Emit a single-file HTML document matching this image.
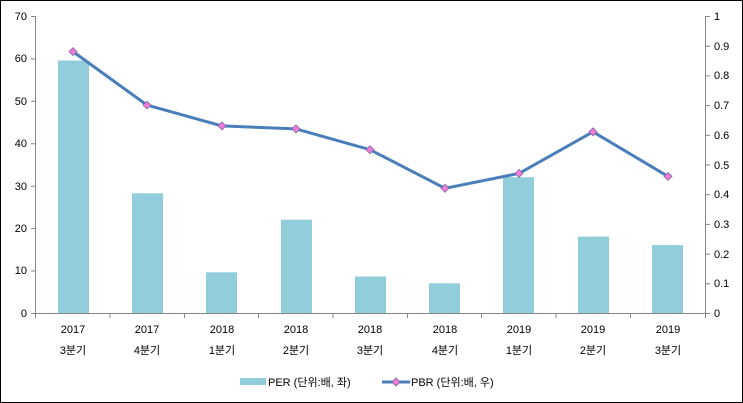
<!DOCTYPE html><html><head><style>body{margin:0}svg{display:block}text{font-family:"Liberation Sans","Noto Sans CJK KR",sans-serif;font-size:11px;fill:#000}</style></head><body>
<svg width="743" height="403" xmlns="http://www.w3.org/2000/svg">
<rect x="0.5" y="0.5" width="742" height="402" fill="#fff" stroke="#000"/>
<g fill="#92CDDC">
<rect x="58" y="60.5" width="31" height="252.5"/>
<rect x="132" y="193.3" width="31" height="119.7"/>
<rect x="206" y="272.3" width="31" height="40.7"/>
<rect x="281" y="219.7" width="31" height="93.3"/>
<rect x="355" y="276.5" width="31" height="36.5"/>
<rect x="429" y="283.3" width="31" height="29.7"/>
<rect x="503" y="177.2" width="31" height="135.8"/>
<rect x="578" y="236.6" width="31" height="76.4"/>
<rect x="652" y="245.1" width="31" height="67.9"/>
</g>
<g stroke="#868686" stroke-width="1" fill="none">
<path d="M35.5 16V313.5H705.5M705.5 16V313.5"/>
<path d="M31 16.5h4.5M31 58.9h4.5M31 101.3h4.5M31 143.8h4.5M31 186.2h4.5M31 228.6h4.5M31 271h4.5M31 313.5h4.5"/>
<path d="M705.5 16.5h4.5M705.5 46.2h4.5M705.5 75.9h4.5M705.5 105.6h4.5M705.5 135.3h4.5M705.5 165h4.5M705.5 194.7h4.5M705.5 224.4h4.5M705.5 254.1h4.5M705.5 283.8h4.5M705.5 313.5h4.5"/>
<path d="M35.5 313v5M110 313v5M184.5 313v5M258.5 313v5M333 313v5M407.5 313v5M481.5 313v5M556 313v5M630.5 313v5M705.5 313v5"/>
</g>
<g text-anchor="end"><text x="27" y="20">70</text><text x="27" y="62">60</text><text x="27" y="105">50</text><text x="27" y="147">40</text><text x="27" y="190">30</text><text x="27" y="232">20</text><text x="27" y="274">10</text><text x="27" y="317">0</text></g>
<g><text x="714" y="20">1</text><text x="714" y="50">0.9</text><text x="714" y="79">0.8</text><text x="714" y="109">0.7</text><text x="714" y="139">0.6</text><text x="714" y="169">0.5</text><text x="714" y="198">0.4</text><text x="714" y="228">0.3</text><text x="714" y="258">0.2</text><text x="714" y="287">0.1</text><text x="714" y="317">0</text></g>
<g text-anchor="middle">
<text x="73" y="333">2017</text><text x="73" y="354">3분기</text>
<text x="147" y="333">2017</text><text x="147" y="354">4분기</text>
<text x="222" y="333">2018</text><text x="222" y="354">1분기</text>
<text x="296" y="333">2018</text><text x="296" y="354">2분기</text>
<text x="370" y="333">2018</text><text x="370" y="354">3분기</text>
<text x="445" y="333">2018</text><text x="445" y="354">4분기</text>
<text x="519" y="333">2019</text><text x="519" y="354">1분기</text>
<text x="593" y="333">2019</text><text x="593" y="354">2분기</text>
<text x="668" y="333">2019</text><text x="668" y="354">3분기</text>
</g>
<polyline points="73,51.6 147,105.1 222,125.9 296,128.9 370,149.7 445,188.3 519,173.4 593,131.8 668,176.4" fill="none" stroke="#4A7EBB" stroke-width="3" stroke-linejoin="round"/>
<g fill="#F07CD9" stroke="#8064A2" stroke-width="0.8">
<path d="M73 47.6l4 4-4 4-4-4z"/><path d="M147 101.1l4 4-4 4-4-4z"/><path d="M222 121.9l4 4-4 4-4-4z"/><path d="M296 124.9l4 4-4 4-4-4z"/><path d="M370 145.7l4 4-4 4-4-4z"/><path d="M445 184.3l4 4-4 4-4-4z"/><path d="M519 169.4l4 4-4 4-4-4z"/><path d="M593 127.8l4 4-4 4-4-4z"/><path d="M668 172.4l4 4-4 4-4-4z"/>
</g>
<rect x="240" y="378" width="26" height="7" fill="#92CDDC"/>
<text x="268" y="386">PER (단위:배, 좌)</text>
<line x1="382" y1="382" x2="410" y2="382" stroke="#4A7EBB" stroke-width="3"/>
<path d="M396 378l4 4-4 4-4-4z" fill="#F07CD9" stroke="#8064A2" stroke-width="0.8"/>
<text x="411" y="386">PBR (단위:배, 우)</text>
</svg></body></html>
